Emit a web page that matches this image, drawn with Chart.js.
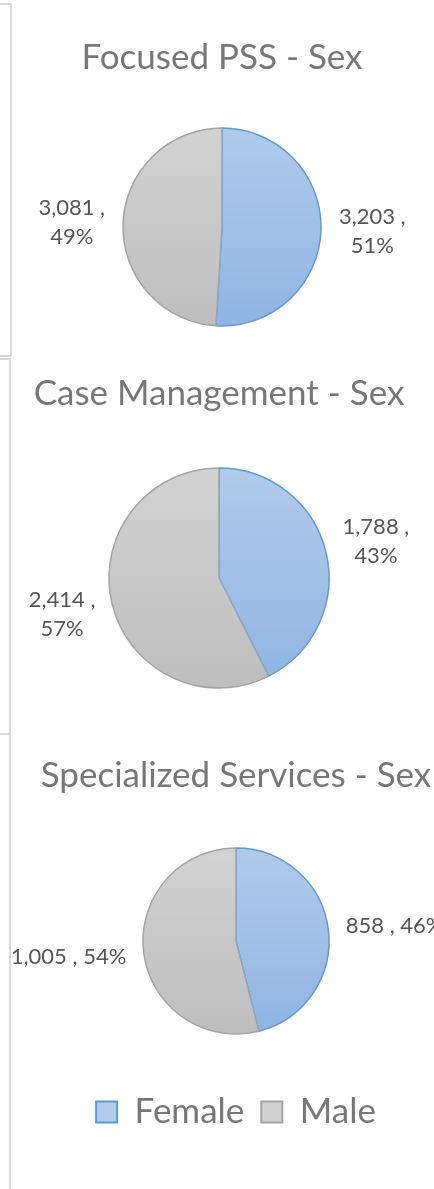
<!DOCTYPE html>
<html>
<head>
<meta charset="utf-8">
<script src="https://cdn.jsdelivr.net/npm/chart.js@4"></script>
<style>
  html, body { margin: 0; padding: 0; background: #fff; }
  body { width: 434px; height: 1189px; overflow: hidden; position: relative; }
  .side { position: absolute; box-sizing: border-box; border: 2px solid #d9d9d9; border-left: none; }
  canvas { position: absolute; left: 12px; }
</style>
</head>
<body>
<div class="side" style="left:-50px; width:62px; top:3px; height:354px;"></div>
<div class="side" style="left:-50px; width:61px; top:358px; height:377px;"></div>
<div class="side" style="left:-50px; width:61px; top:735px; height:500px; border-top:none;"></div>

<canvas id="pss" width="460" height="350" style="top:5px"></canvas>
<canvas id="cm" width="460" height="372" style="top:360px"></canvas>
<canvas id="ss" width="460" height="453" style="top:736px"></canvas>

<script>
const categories = ["Female", "Male"];
const titles = ["Focused PSS - Sex", "Case Management - Sex", "Specialized Services - Sex"];
const focusedPss = [3203, 3081];
const caseManagement = [1788, 2414];
const specializedServices = [858, 1005];

const fills = [["#b0cbeb", "#8fb4e3"], ["#d2d2d2", "#bebebe"]];
const borders = ["#5b9bd5", "#a3a3a3"];

// labels outside the slices: "value , pct"
const sliceLabels = {
    id: "sliceLabels",
    afterDatasetsDraw: (chart, args, opts) => {
        const { ctx } = chart;
        const meta = chart.getDatasetMeta(0);
        const values = chart.data.datasets[0].data;
        const total = values.reduce((a, b) => a + b, 0);
        ctx.save();
        ctx.font = opts.size + "px Lato";
        ctx.fillStyle = opts.color;
        ctx.textAlign = "center";
        ctx.textBaseline = "middle";
        meta.data.forEach((arc, i) => {
            const { x, y, startAngle, endAngle, outerRadius } = arc.getProps(
                ["x", "y", "startAngle", "endAngle", "outerRadius"], true);
            const mid = (startAngle + endAngle) / 2;
            const ux = Math.cos(mid);
            const uy = Math.sin(mid);
            const num = values[i].toLocaleString("en-US") + " ,";
            const pct = Math.round((values[i] / total) * 100) + "%";
            const lines = opts.wrap ? [num, pct] : [num + " " + pct];
            const w = Math.max(...lines.map((l) => ctx.measureText(l).width));
            const lh = opts.size * opts.lineHeight;
            const h = lh * lines.length;
            const px = x + ux * (outerRadius + opts.gap);
            const py = y + uy * (outerRadius + opts.gap);
            const cx = px + (ux * w) / 2;
            const cy = py + (uy * h) / 2;
            lines.forEach((l, k) => {
                ctx.fillText(l, cx, cy - h / 2 + lh * (k + 0.5));
            });
        });
        ctx.restore();
    },
};

function sliceFill(context) {
    const chart = context.chart;
    const area = chart.chartArea;
    const i = context.dataIndex;
    if (!area) return fills[i][1];
    const r = context.dataset.radius;
    const cy = (area.top + area.bottom) / 2;
    const g = chart.ctx.createLinearGradient(0, cy - r, 0, cy + r);
    g.addColorStop(0, fills[i][0]);
    g.addColorStop(1, fills[i][1]);
    return g;
}

function makePie(id, title, values, cfg) {
    new Chart(document.getElementById(id), {
        type: "pie",
        data: {
            labels: categories,
            datasets: [
                {
                    data: values,
                    radius: cfg.radius,
                    backgroundColor: sliceFill,
                    borderColor: borders,
                    borderWidth: 1.5,
                },
            ],
        },
        options: {
            responsive: false,
            animation: false,
            events: [],
            layout: { padding: cfg.padding },
            plugins: {
                title: {
                    display: true,
                    text: title,
                    color: "#777777",
                    font: { family: "Lato", size: 35, weight: "normal" },
                    padding: cfg.titlePadding,
                },
                legend: {
                    display: !!cfg.legend,
                    position: "bottom",
                    labels: {
                        boxWidth: 21,
                        boxHeight: 21,
                        padding: 17,
                        color: "#777777",
                        font: { family: "Lato", size: 35 },
                        generateLabels: (chart) =>
                            categories.map((c, i) => ({
                                text: c,
                                fillStyle: fills[i][0],
                                strokeStyle: borders[i],
                                lineWidth: 2,
                                fontColor: "#777777",
                                index: i,
                            })),
                    },
                },
                tooltip: { enabled: false },
                sliceLabels: {
                    size: 22,
                    lineHeight: 1.32,
                    color: "#555555",
                    gap: 18,
                    wrap: cfg.wrap,
                },
            },
        },
        plugins: [sliceLabels],
    });
}

makePie("pss", titles[0], focusedPss, {
    radius: 99,
    padding: { left: 0, right: 40, top: 0, bottom: 0 },
    titlePadding: { top: 31.8, bottom: 20.2 },
    wrap: true,
});
makePie("cm", titles[1], caseManagement, {
    radius: 110,
    padding: { left: 0, right: 46, top: 0, bottom: 0 },
    titlePadding: { top: 12.5, bottom: 9.5 },
    wrap: true,
});
makePie("ss", titles[2], specializedServices, {
    radius: 93,
    padding: { left: 0, right: 12, top: 0, bottom: 49.5 },
    titlePadding: { top: 18.5, bottom: 8 },
    legend: true,
    wrap: false,
});
</script>
</body>
</html>
